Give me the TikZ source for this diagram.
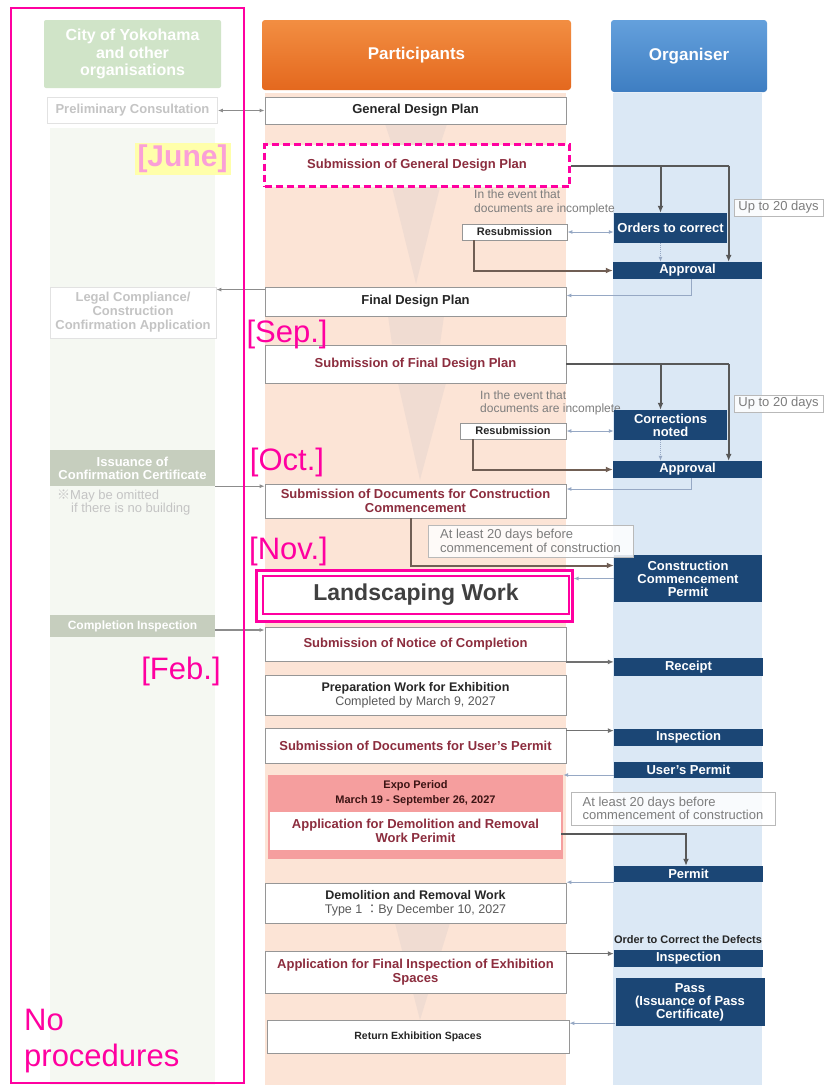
\documentclass[tikz,border=0pt]{standalone}
\usepackage{fontspec}
\setmainfont{Liberation Sans}
\newfontfamily\cjk{Noto Sans CJK JP}
\usetikzlibrary{arrows.meta,calc}

\definecolor{hlpink}{RGB}{255,0,160}
\definecolor{junepink}{RGB}{250,160,215}
\definecolor{juneyellow}{RGB}{255,255,170}
\definecolor{peachbg}{RGB}{252,228,214}
\definecolor{wedgecol}{RGB}{240,220,210}
\definecolor{greenbg}{RGB}{245,248,242}
\definecolor{greenhead}{RGB}{208,228,200}
\definecolor{greygreen}{RGB}{198,206,190}
\definecolor{fainttext}{RGB}{196,196,196}
\definecolor{faintline}{RGB}{226,226,226}
\definecolor{bluebg}{RGB}{219,232,245}
\definecolor{navybox}{RGB}{27,70,117}
\definecolor{maroontext}{RGB}{140,45,62}
\definecolor{boxline}{RGB}{150,150,150}
\definecolor{darkconn}{RGB}{88,88,88}
\definecolor{brownconn}{RGB}{112,94,84}
\definecolor{lightconn}{RGB}{150,168,196}
\definecolor{sideconn}{RGB}{140,140,140}
\definecolor{notegrey}{RGB}{125,125,125}
\definecolor{noteline}{RGB}{185,185,185}
\definecolor{expobg}{RGB}{245,158,158}
\definecolor{expotext}{RGB}{60,20,20}
\definecolor{landtext}{RGB}{64,64,64}
\definecolor{orangetop}{RGB}{242,142,66}
\definecolor{orangebot}{RGB}{228,104,30}
\definecolor{bluetop}{RGB}{100,160,220}
\definecolor{bluebot}{RGB}{62,126,194}

\begin{document}
\begin{tikzpicture}[x=1pt,y=-1pt,
  pbox/.style={draw=boxline, line width=0.8pt, fill=white, inner sep=0pt, align=center,
    font=\bfseries\fontsize{13}{14}\selectfont, text=black!85},
  mbox/.style={pbox, text=maroontext},
  nbox/.style={fill=navybox, text=white, inner sep=0pt, align=center,
    font=\bfseries\fontsize{13}{13}\selectfont},
  lbox/.style={draw=faintline, line width=0.7pt, fill=white, text=fainttext, align=center,
    inner sep=0pt, font=\bfseries\fontsize{13}{14}\selectfont},
  gbox/.style={fill=greygreen, text=white, align=center, inner sep=0pt,
    font=\bfseries\fontsize{13}{13}\selectfont},
  notebox/.style={draw=noteline, line width=0.7pt, fill=white, fill opacity=0.85, text opacity=1,
    text=notegrey, align=left, inner sep=0pt, font=\fontsize{13}{13.5}\selectfont},
  monthlabel/.style={text=hlpink, inner sep=0pt, font=\fontsize{31}{33}\selectfont},
  darkline/.style={draw=darkconn, line width=2pt, -{Latex[length=7pt,width=6pt]}},
  brownline/.style={draw=brownconn, line width=2pt, -{Latex[length=7pt,width=6pt]}},
  midline/.style={draw=darkconn!85, line width=1.5pt, -{Latex[length=6pt,width=5pt]}},
  lightline/.style={draw=lightconn, line width=1pt, -{Latex[length=5pt,width=4pt]}},
  sideline/.style={draw=sideconn, line width=1.2pt, -{Latex[length=5pt,width=4pt]}},
]
\useasboundingbox (0,0) rectangle (826,1085);
\fill[white] (0,0) rectangle (826,1085);

% ---- column backgrounds ----
\fill[greenbg] (50,128) rectangle (215,1085);
\fill[peachbg] (265,93) rectangle (566,1085);
\fill[bluebg] (613,93) rectangle (762,1085);

% faint funnel shading in the participants column
\fill[wedgecol] (385,124) -- (447,124) -- (440,145) -- (392,145) -- cycle;
\fill[wedgecol] (392,187) -- (440,187) -- (416,284) -- cycle;
\fill[wedgecol] (388,316) -- (444,316) -- (440,344) -- (392,344) -- cycle;
\fill[wedgecol] (398,383) -- (446,383) -- (420,480) -- cycle;
\fill[wedgecol] (395,923) -- (450,923) -- (420,1020) -- cycle;

% ---- column headers ----
\node[fill=greenhead, rounded corners=2pt, minimum width=177pt, minimum height=68pt,
  inner sep=0pt, text=white, align=center, font=\bfseries\fontsize{16}{17.5}\selectfont]
  (cityhead) at (132.5,54) {City of Yokohama\\and other\\organisations};
\node[top color=orangetop, bottom color=orangebot, rounded corners=3pt,
  minimum width=309pt, minimum height=70pt, inner sep=0pt, text=white,
  font=\bfseries\fontsize{17}{17}\selectfont] (parthead) at (416.5,55) {Participants};
\node[top color=bluetop, bottom color=bluebot, rounded corners=3pt,
  minimum width=156pt, minimum height=72pt, inner sep=0pt, text=white,
  font=\bfseries\fontsize{17}{17}\selectfont] (orghead) at (689,56) {Organiser};

% ---- City of Yokohama column ----
\node[lbox, minimum width=170pt, minimum height=26pt] (prelim) at (132.5,110.5) {Preliminary Consultation};
\node[lbox, minimum width=166pt, minimum height=51pt] (legal) at (133,312.5)
  {Legal Compliance/\\Construction\\Confirmation Application};
\node[gbox, minimum width=165pt, minimum height=36pt] (issue) at (132.5,468)
  {Issuance of\\Confirmation Certificate};
\node[anchor=north west, align=left, inner sep=0pt, text=fainttext,
  font=\fontsize{13}{13}\selectfont] (omit) at (57,490)
  {{\cjk ※}May be omitted\\\hspace*{14pt}if there is no building};
\node[gbox, minimum width=165pt, minimum height=22pt, font=\bfseries\fontsize{12}{12}\selectfont]
  (compl) at (132.5,626) {Completion Inspection};

% ---- Participants column ----
\node[pbox, minimum width=301pt, minimum height=27pt] (gdp) at (415.5,110.5) {General Design Plan};
\node[mbox, draw=hlpink, line width=2.6pt, dash pattern=on 7pt off 4pt,
  minimum width=305pt, minimum height=42pt] (sgdp) at (417,165.5) {Submission of General Design Plan};
\node[pbox, minimum width=105pt, minimum height=16pt, font=\bfseries\fontsize{11}{11}\selectfont]
  (resub1) at (514.5,232) {Resubmission};
\node[pbox, minimum width=301pt, minimum height=29pt] (fdp) at (415.5,301.5) {Final Design Plan};
\node[mbox, minimum width=301pt, minimum height=38pt] (sfdp) at (415.5,364) {Submission of Final Design Plan};
\node[pbox, minimum width=106pt, minimum height=16pt, font=\bfseries\fontsize{11}{11}\selectfont]
  (resub2) at (513,431) {Resubmission};
\node[mbox, minimum width=301pt, minimum height=34pt] (sdcc) at (415.5,501)
  {Submission of Documents for Construction\\Commencement};

\node[fill=white, draw=hlpink, line width=3pt, minimum width=316pt, minimum height=51pt]
  (landout) at (414,595.5) {};
\node[draw=hlpink, line width=1.5pt, minimum width=306pt, minimum height=38pt, inner sep=0pt,
  text=landtext, font=\bfseries\fontsize{23}{23}\selectfont] (land) at (416,595) {Landscaping Work};

\node[mbox, minimum width=301pt, minimum height=34pt] (nc) at (415.5,644.5)
  {Submission of Notice of Completion};
\node[pbox, minimum width=301pt, minimum height=40pt, font=\fontsize{12.5}{14}\selectfont]
  (prep) at (415.5,695)
  {\textbf{Preparation Work for Exhibition}\\\textcolor{black!65}{Completed by March 9, 2027}};
\node[mbox, minimum width=301pt, minimum height=35pt] (ud) at (415.5,745.5)
  {Submission of Documents for User's Permit};
\node[fill=expobg, minimum width=295pt, minimum height=84pt, inner sep=0pt] (expo) at (415.5,817) {};
\node[inner sep=0pt, align=center, text=expotext, font=\bfseries\fontsize{11}{15}\selectfont]
  (expotitle) at (415.5,793.5) {Expo Period\\March 19 - September 26, 2027};
\node[mbox, draw=none, minimum width=291pt, minimum height=38pt] (demapp) at (415.5,831)
  {Application for Demolition and Removal\\Work Perimit};
\node[pbox, minimum width=301pt, minimum height=40pt, font=\fontsize{12.5}{14}\selectfont]
  (demo) at (415.5,903)
  {\textbf{Demolition and Removal Work}\\\textcolor{black!65}{Type 1 {\cjk ：}By December 10, 2027}};
\node[mbox, minimum width=301pt, minimum height=42pt] (fi) at (415.5,972)
  {Application for Final Inspection of Exhibition\\Spaces};
\node[pbox, minimum width=302pt, minimum height=33pt, font=\bfseries\fontsize{10.5}{12}\selectfont]
  (ret) at (418,1036.5) {Return Exhibition Spaces};

% notes beside the resubmission loops
\node[anchor=north west, align=left, inner sep=0pt, text=notegrey, font=\fontsize{12}{14}\selectfont]
  (ev1) at (474,190) {In the event that\\documents are incomplete};
\node[anchor=north west, align=left, inner sep=0pt, text=notegrey, font=\fontsize{12}{13}\selectfont]
  (ev2) at (480,391) {In the event that\\documents are incomplete};

% ---- Organiser column ----
\node[nbox, minimum width=113pt, minimum height=30pt] (orders1) at (670.5,228) {Orders to correct};
\node[nbox, minimum width=149pt, minimum height=17pt] (appr1) at (687.5,270.5) {Approval};
\node[nbox, minimum width=113pt, minimum height=30pt] (corr) at (670.5,425) {Corrections\\noted};
\node[nbox, minimum width=149pt, minimum height=17pt] (appr2) at (687.5,469.5) {Approval};
\node[nbox, minimum width=148pt, minimum height=47pt] (ccp) at (688,578.5)
  {Construction\\Commencement\\Permit};
\node[nbox, minimum width=149pt, minimum height=18pt] (receipt) at (688.5,667) {Receipt};
\node[nbox, minimum width=149pt, minimum height=17pt] (insp1) at (688.5,737.5) {Inspection};
\node[nbox, minimum width=149pt, minimum height=16pt] (userp) at (688.5,770) {User's Permit};
\node[nbox, minimum width=149pt, minimum height=16pt] (permit) at (688.5,874) {Permit};
\node[nbox, minimum width=149pt, minimum height=17pt] (insp2) at (688.5,958.5) {Inspection};
\node[nbox, minimum width=149pt, minimum height=48pt] (pass) at (690,1002)
  {Pass\\(Issuance of Pass\\Certificate)};
\node[inner sep=0pt, text=black!85, font=\bfseries\fontsize{11}{11}\selectfont]
  (defects) at (688,940) {Order to Correct the Defects};

% time limit notes
\node[notebox, align=center, minimum width=89pt, minimum height=17pt] (up1) at (778.5,207.5) {Up to 20 days};
\node[notebox, align=center, minimum width=89pt, minimum height=17pt] (up2) at (778.5,403.5) {Up to 20 days};
\node[notebox, minimum width=205pt, minimum height=32pt, inner xsep=5pt] (atl1) at (530.5,541)
  {At least 20 days before\\commencement of construction};
\node[notebox, minimum width=204pt, minimum height=33pt, inner xsep=5pt] (atl2) at (673,808.5)
  {At least 20 days before\\commencement of construction};

% ---- connectors to the city column ----
\draw[sideline, {Latex[length=5pt,width=4pt]}-{Latex[length=5pt,width=4pt]}] (prelim.east) -- (gdp.west);
\draw[sideline] ([yshift=-3pt]fdp.north west) -- ([yshift=-3pt]fdp.north west -| legal.east);
\draw[sideline] (issue.south east) -- (issue.south east -| sdcc.west);
\draw[sideline] ([yshift=-4pt]compl.east) -- ([yshift=-4pt]compl.east -| nc.west);

% ---- general design plan review loop ----
\coordinate (j1) at ($(sgdp.east -| up1.west)+(-5,0)$);
\coordinate (b1) at ($(sgdp.east -| orders1.north)+(-10,0)$);
\draw[draw=darkconn, line width=2pt] (sgdp.east) -- (j1);
\draw[darkline] (j1) -- (j1 |- appr1.north);
\draw[darkline] (b1) -- (b1 |- orders1.north);
\draw[lightline, {Latex[length=5pt,width=4pt]}-{Latex[length=5pt,width=4pt]}]
  (resub1.east) -- (resub1.east -| orders1.west);
\draw[lightline, densely dotted] ([xshift=-10pt]orders1.south) -- ([xshift=-10pt]orders1.south |- appr1.north);
\draw[brownline] ([xshift=12pt]resub1.south west) |- (appr1.west);
\draw[lightline] ([xshift=4pt]appr1.south) |- ([yshift=6pt]fdp.east);

% ---- final design plan review loop ----
\coordinate (j2) at ($(sfdp.east -| up2.west)+(-5,0)$);
\coordinate (b2) at ($(sfdp.east -| corr.north)+(-10,0)$);
\draw[draw=darkconn, line width=2pt] (sfdp.east) -- (j2);
\draw[darkline] (j2) -- (j2 |- appr2.north);
\draw[darkline] (b2) -- (b2 |- corr.north);
\draw[lightline, {Latex[length=5pt,width=4pt]}-{Latex[length=5pt,width=4pt]}]
  (resub2.east) -- (resub2.east -| corr.west);
\draw[lightline, densely dotted] ([xshift=-10pt]corr.south) -- ([xshift=-10pt]corr.south |- appr2.north);
\draw[brownline] ([xshift=13pt]resub2.south west) |- (appr2.west);
\draw[lightline] ([xshift=4pt]appr2.south) |- ([yshift=12pt]sdcc.east);

% ---- construction and completion ----
\draw[brownline] ([xshift=-4.5pt]sdcc.south) |- ([yshift=13pt]ccp.west);
\draw[lightline] (ccp.west) -- (ccp.west -| landout.east);
\draw[midline] (nc.south east) -- (nc.south east -| receipt.west);
\draw[midline] ([yshift=-3pt]ud.north east) -- ([yshift=-3pt]ud.north east -| insp1.west);
\draw[lightline] ([yshift=-5pt]userp.west) -- ([yshift=-5pt]userp.west -| expo.east);
\draw[darkline] ([yshift=-3pt]demapp.east) -| ([xshift=-2.5pt]permit.north);
\draw[lightline] (permit.south west) -- (permit.south west -| demo.east);
\draw[midline] ([yshift=-3pt]fi.north east) -- ([yshift=-3pt]fi.north east -| insp2.west);
\draw[lightline] ([yshift=3pt]pass.south west) -- ([yshift=3pt]pass.south west -| ret.east);

% ---- schedule annotations ----
\draw[hlpink, line width=2pt] (11,8) rectangle (244,1083);
\node[fill=juneyellow, text=junepink, inner xsep=3pt, inner ysep=2pt,
  font=\bfseries\fontsize{30}{30}\selectfont] (june) at (182.5,159) {[June]};
\node[monthlabel] (sep) at (287,334) {[Sep.]};
\node[monthlabel] (oct) at (287,462.5) {[Oct.]};
\node[monthlabel] (nov) at (288.5,551) {[Nov.]};
\node[monthlabel] (feb) at (181,671.5) {[Feb.]};
\node[monthlabel, anchor=base west] (nop1) at (24,1030) {No};
\node[monthlabel, anchor=base west] (nop2) at (24,1066) {procedures};
\end{tikzpicture}
\end{document}
